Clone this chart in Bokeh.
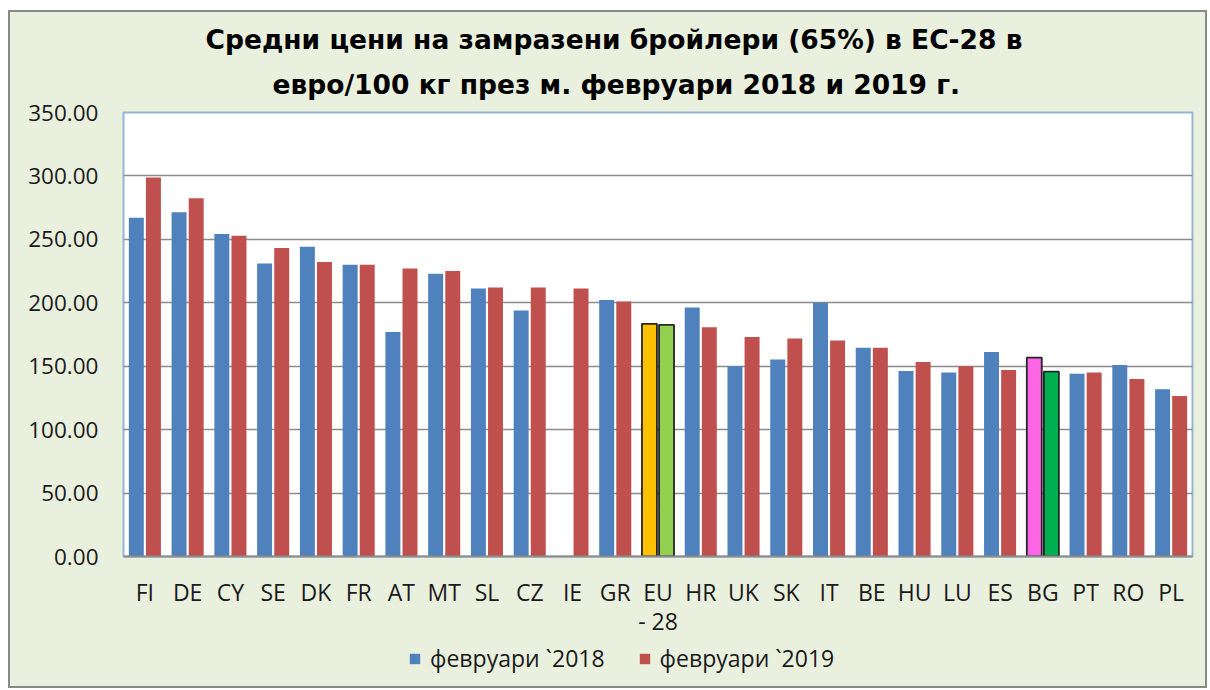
import math
from bokeh.plotting import figure
from bokeh.layouts import column
from bokeh.models import (ColumnDataSource, FactorRange, Range1d, FixedTicker,
                          NumeralTickFormatter, Legend, LegendItem, Title)
from bokeh.transform import dodge
from bokeh.embed import file_html
from bokeh.resources import INLINE

# ---------------- data ----------------
categories = ["FI", "DE", "CY", "SE", "DK", "FR", "AT", "MT", "SL", "CZ", "IE", "GR",
              "EU\n- 28", "HR", "UK", "SK", "IT", "BE", "HU", "LU", "ES", "BG", "PT", "RO", "PL"]
feb_2018 = [267.1, 271.3, 254.2, 231.0, 244.2, 230.0, 176.9, 222.8, 211.3, 193.9, float("nan"), 202.1,
            183.4, 196.3, 150.0, 155.3, 200.0, 164.5, 146.3, 145.0, 161.3, 156.8, 144.0, 151.0, 131.8]
feb_2019 = [298.7, 282.4, 252.9, 243.1, 232.1, 230.0, 227.1, 225.0, 212.1, 212.1, 211.3, 201.0,
            182.6, 180.8, 173.0, 171.9, 170.2, 164.5, 153.4, 150.0, 147.1, 145.8, 145.0, 140.0, 126.6]
series_labels = ["февруари `2018", "февруари `2019"]
y_ticks = [0, 50, 100, 150, 200, 250, 300, 350]
title_lines = ["Средни цени на замразени бройлери (65%) в ЕС-28 в",
               "евро/100 кг през м. февруари 2018 и 2019 г."]

# ---------------- styles ----------------
BLUE, RED = "#4F81BD", "#C0504D"
BG = "#EAF0DE"
highlight_2018 = {"EU\n- 28": "#FFC000", "BG": "#FF66E6"}
highlight_2019 = {"EU\n- 28": "#92D050", "BG": "#00B050"}

def fills(default, hl):
    return [hl.get(c, default) for c in categories]

def lines(hl):
    return ["#262626" if c in hl else None for c in categories]

def lwidths(hl):
    return [1.8 if c in hl else 0 for c in categories]

src = ColumnDataSource(dict(
    cat=categories, v18=feb_2018, v19=feb_2019,
    f18=fills(BLUE, highlight_2018), f19=fills(RED, highlight_2019),
    l18=lines(highlight_2018), l19=lines(highlight_2019),
    w18=lwidths(highlight_2018), w19=lwidths(highlight_2019),
))

FONT = "Open Sans"
TXT = "#1A1A1A"

p = figure(frame_width=1069, frame_height=444, x_range=FactorRange(*categories), y_range=Range1d(0, 350),
           output_backend="svg", toolbar_location=None,
           min_border_left=113, min_border_right=13, min_border_top=100, min_border_bottom=84)

p.border_fill_color = BG
p.background_fill_color = "#FFFFFF"
p.outline_line_color = "#95B3D7"
p.outline_line_width = 2

r18 = p.vbar(x=dodge("cat", -0.2, range=p.x_range), top="v18", width=0.35, source=src,
             fill_color="f18", line_color="l18", line_width="w18")
r19 = p.vbar(x=dodge("cat", 0.2, range=p.x_range), top="v19", width=0.35, source=src,
             fill_color="f19", line_color="l19", line_width="w19")

# axes
p.yaxis.ticker = FixedTicker(ticks=y_ticks)
p.yaxis.formatter = NumeralTickFormatter(format="0.00")
p.yaxis.axis_line_color = None
p.yaxis.major_tick_line_color = None
p.yaxis.minor_tick_line_color = None
p.yaxis.major_tick_out = 0
p.yaxis.major_label_standoff = 25
p.yaxis.major_label_text_font = FONT
p.yaxis.major_label_text_font_size = "22.5px"
p.yaxis.major_label_text_color = TXT

p.xaxis.axis_line_color = "#8C8C8C"
p.xaxis.axis_line_width = 2
p.xaxis.major_tick_line_color = None
p.xaxis.major_tick_out = 0
p.xaxis.major_label_standoff = 19
p.xaxis.major_label_text_font = FONT
p.xaxis.major_label_text_font_size = "23px"
p.xaxis.major_label_text_line_height = 0.93
p.xaxis.major_label_text_color = TXT

p.xgrid.grid_line_color = None
p.ygrid.grid_line_color = "#8C8C8C"
p.ygrid.grid_line_width = 1.5

# title (two lines)
t2 = Title(text=title_lines[1], align="left", text_font="DejaVu Sans", text_font_size="26.5px",
           text_font_style="bold", text_color="#000000", standoff=25, offset=149)
t1 = Title(text=title_lines[0], align="left", text_font="DejaVu Sans", text_font_size="26.5px",
           text_font_style="bold", text_color="#000000", standoff=0, offset=82,
           text_line_height=1.2)
p.add_layout(t2, "above")
p.add_layout(t1, "above")

# legend strip under the chart (its frame is aligned with the chart's frame)
leg = figure(width=1195, height=46, x_range=Range1d(0, 1), y_range=Range1d(0, 1),
             output_backend="svg", toolbar_location=None,
             x_axis_location=None, y_axis_location=None, min_border=0)
leg.grid.grid_line_color = None
leg.outline_line_color = None
leg.background_fill_color = BG
leg.border_fill_color = BG
# legend proxies (kept outside the visible range)
g18 = leg.vbar(x=[-1], top=[0], width=0.1, fill_color=BLUE, line_color=None)
g19 = leg.vbar(x=[-1], top=[0], width=0.1, fill_color=RED, line_color=None)
legend = Legend(items=[LegendItem(label=series_labels[0], renderers=[g18]),
                       LegendItem(label=series_labels[1], renderers=[g19])],
                orientation="horizontal", location=(285, 12),
                label_text_font=FONT, label_text_font_size="23px", label_text_color=TXT,
                glyph_width=13, glyph_height=13, label_standoff=9, spacing=33,
                background_fill_alpha=0, border_line_color=None, padding=0, margin=0)
leg.add_layout(legend, "center")

layout = column(p, leg, spacing=0,
                styles={"border": "2px solid #8A8A8A", "margin-left": "8px", "margin-top": "10px",
                        "background-color": BG})

open("out.html", "w").write(file_html(layout, INLINE))
